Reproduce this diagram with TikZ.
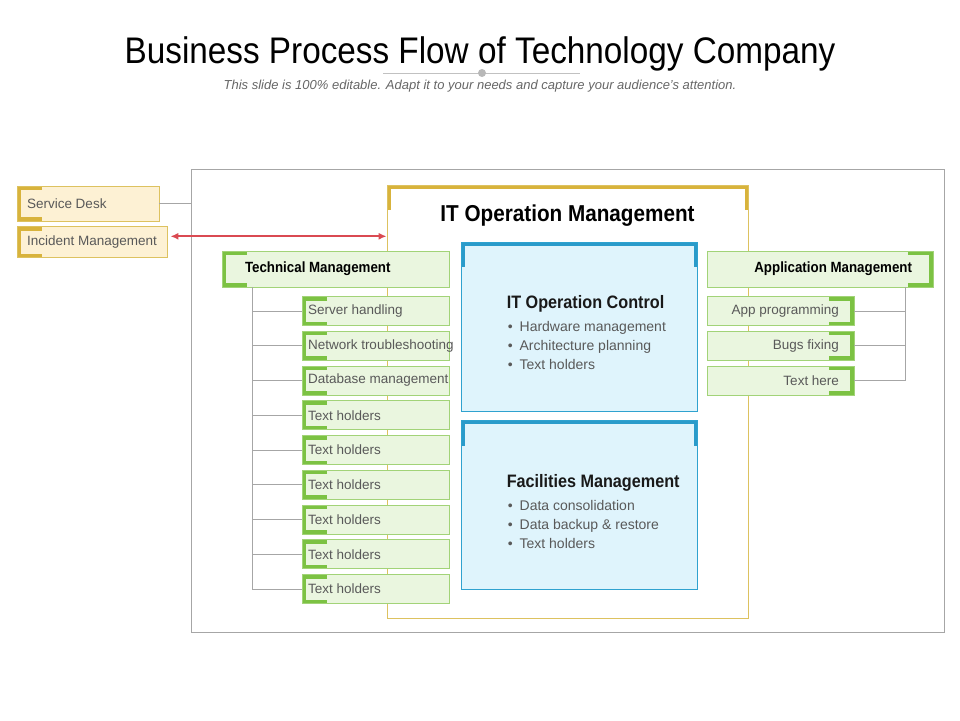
\documentclass[tikz,border=0pt]{standalone}
\usepackage{fontspec}
\setmainfont{Liberation Sans}
\newfontfamily\narrowsf[FakeStretch=0.9]{Liberation Sans}
\usepackage{tikz}
\usetikzlibrary{arrows.meta}
\usetikzlibrary{calc}
\usetikzlibrary{positioning}

\definecolor{goldline}{HTML}{D8B33C}
\definecolor{goldthin}{HTML}{DDC260}
\definecolor{cream}{HTML}{FDF1D4}
\definecolor{grnline}{HTML}{7CC243}
\definecolor{grnthin}{HTML}{A2D378}
\definecolor{grnfill}{HTML}{EAF6DF}
\definecolor{blueline}{HTML}{2A9BCA}
\definecolor{bluethin}{HTML}{2FA2CF}
\definecolor{bluefill}{HTML}{DFF4FC}
\definecolor{redline}{HTML}{DA4A52}
\definecolor{gline}{HTML}{A6A6A6}
\definecolor{txt}{HTML}{595959}

\begin{document}
\begin{tikzpicture}[x=1pt, y=-1pt,
    lbr/.style={path picture={\draw[line width=8pt, #1] ([xshift=25pt]path picture bounding box.north west) -- (path picture bounding box.north west) -- (path picture bounding box.south west) -- ([xshift=25pt]path picture bounding box.south west);}},
    rbr/.style={path picture={\draw[line width=8pt, #1] ([xshift=-25pt]path picture bounding box.north east) -- (path picture bounding box.north east) -- (path picture bounding box.south east) -- ([xshift=-25pt]path picture bounding box.south east);}},
    tbr/.style={path picture={\draw[line width=7pt, #1] ([yshift=-25pt]path picture bounding box.north west) -- (path picture bounding box.north west) -- (path picture bounding box.north east) -- ([yshift=-25pt]path picture bounding box.north east);}},
    lbl/.style={inner sep=0pt, text=txt, font=\fontsize{13.5}{16}\selectfont},
    cbox/.style={lbl, draw=goldthin, fill=cream, line width=0.8pt, lbr=goldline},
    gbox/.style={lbl, draw=grnthin, fill=grnfill, line width=0.8pt, minimum height=29pt},
    ghead/.style={gbox, minimum height=36pt, text=black, font=\narrowsf\bfseries\fontsize{14.8}{17}\selectfont},
    bbox/.style={draw=bluethin, fill=bluefill, line width=0.9pt, tbr=blueline, minimum width=236pt, minimum height=169pt},
    btitle/.style={inner sep=0pt, text=black!90, font=\narrowsf\bfseries\fontsize{18}{21}\selectfont},
    bullet/.style={inner sep=0pt, text=txt, font=\fontsize{14}{17}\selectfont},
    conn/.style={draw=gline, line width=0.9pt},
    biarrow/.style={draw=redline, line width=1.8pt, {Latex[length=8pt,width=7pt]}-{Latex[length=8pt,width=7pt]}}]

    \useasboundingbox (0,0) rectangle (960,720);

    % heading
    \node[anchor=base, inner sep=0pt, font=\narrowsf\fontsize{37}{40}\selectfont, text=black] (title) at (480,63) {Business Process Flow of Technology Company};
    \draw[gline!70, line width=0.6pt] (383,73) -- (580,73);
    \fill[gline!80] (482,73) circle (4);
    \node[anchor=base, inner sep=0pt, font=\itshape\fontsize{13}{15}\selectfont, text=black!60] (sub) at (480,89) {This slide is 100\% editable. Adapt it to your needs and capture your audience's attention.};

    % frames
    \node[draw=gline, line width=0.8pt, minimum width=753pt, minimum height=463pt] (frame) at (567.5,400.5) {};
    \node[draw=goldthin, fill=white, line width=0.8pt, tbr=goldline, minimum width=361pt, minimum height=433pt] (itom) at (567.5,401.5) {};
    \node[inner sep=0pt, text=black, font=\narrowsf\bfseries\fontsize{23}{26}\selectfont, below=20pt of itom.north] (itomt) {IT Operation Management};

    % blue boxes
    \node[bbox] (ctl) at (579,326.5) {};
    \node[bbox, below=9pt of ctl] (fac) {};
    \node[btitle, anchor=base west] (ctlt) at ([xshift=46pt,yshift=-67pt]ctl.north west) {IT Operation Control};
    \node[btitle, anchor=base west] (fact) at ([xshift=46pt,yshift=-67pt]fac.north west) {Facilities Management};
    \foreach \t [count=\k] in {Hardware management, Architecture planning, Text holders}
        \node[bullet, anchor=base west] (c\k) at ([xshift=47pt,yshift={-71pt-19pt*\k}]ctl.north west) {\textbullet\hspace{7pt}\t};
    \foreach \t [count=\k] in {Data consolidation, Data backup \& restore, Text holders}
        \node[bullet, anchor=base west] (f\k) at ([xshift=47pt,yshift={-71pt-19pt*\k}]fac.north west) {\textbullet\hspace{7pt}\t};

    % service desk
    \node[cbox, minimum height=35pt] (sd) at (88,203.5) {\makebox[142pt][l]{\hspace{10pt}Service Desk}};
    \node[cbox, minimum height=31pt, below right=5pt and 0pt of sd.south west] (inc) {\makebox[150pt][l]{\hspace{10pt}Incident Management}};
    \draw[conn] (sd.east) -- (sd.east -| frame.west);
    \draw[biarrow] ([xshift=3pt,yshift=6pt]inc.east) -- ([yshift=6pt]inc.east -| itom.west);

    % technical management
    \node[ghead, lbr=grnline] (tm) at (335.5,269) {\makebox[227pt][l]{\hspace{23pt}Technical Management}};
    \foreach \t [count=\i from 0] in {Server handling, Network troubleshooting, Database management,
        Text holders, Text holders, Text holders, Text holders, Text holders, Text holders}
        \node[gbox, lbr=grnline] (l\i) at (375.5,{311+34.75*\i}) {\makebox[147pt][l]{\hspace{6pt}\t}};
    \coordinate (tk) at ([xshift=31pt]tm.south west);
    \draw[conn] (tk) |- (l8.west);
    \foreach \i in {0,...,7}
        \draw[conn] (l\i.west) -- (l\i.west -| tk);

    % application management
    \node[ghead, rbr=grnline] (am) at (820,269) {\makebox[226pt][r]{Application Management\hspace{21pt}}};
    \foreach \t [count=\i from 0] in {App programming, Bugs fixing, Text here}
        \node[gbox, rbr=grnline] (r\i) at (780.5,{311+34.75*\i}) {\makebox[147pt][r]{\t\hspace{15pt}}};
    \coordinate (ak) at ([xshift=-28pt]am.south east);
    \draw[conn] (ak) |- (r2.east);
    \foreach \i in {0,1}
        \draw[conn] (r\i.east) -- (r\i.east -| ak);
\end{tikzpicture}
\end{document}
